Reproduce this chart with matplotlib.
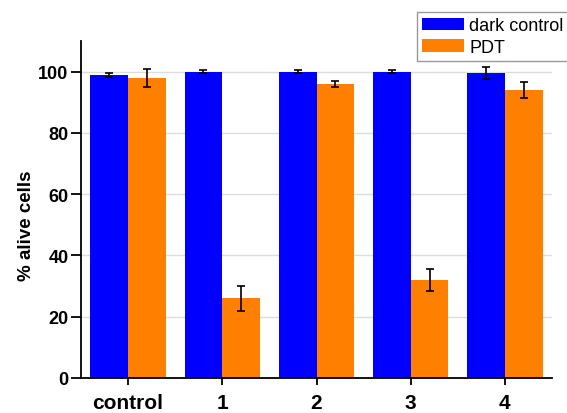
import matplotlib
matplotlib.use("Agg")
import matplotlib.pyplot as plt
import numpy as np

plt.rcParams['font.family'] = ['Liberation Sans', 'DejaVu Sans']

categories = ["control", "1", "2", "3", "4"]
dark_control = [99, 100, 100, 100, 99.5]
dark_err = [0.6, 0.5, 0.5, 0.5, 2.0]
pdt = [98, 26, 96, 32, 94]
pdt_err = [3.0, 4.0, 1.0, 3.5, 2.5]

fig = plt.figure(figsize=(5.67, 4.14), dpi=100)
ax = fig.add_axes([81/567, 1-379/414, (552-81)/567, (379-42)/414])

x = np.arange(len(categories))
w = 0.4
ax.bar(x - w/2, dark_control, w, color='#0000ff', yerr=dark_err, capsize=3,
       error_kw=dict(elinewidth=1.2, capthick=1.2, ecolor='black'), label='dark control', zorder=2)
ax.bar(x + w/2, pdt, w, color='#ff8000', yerr=pdt_err, capsize=3,
       error_kw=dict(elinewidth=1.2, capthick=1.2, ecolor='black'), label='PDT', zorder=2)

ax.set_xlim(-0.5, 4.5)
ax.set_ylim(0, 110)
ax.set_yticks([0, 20, 40, 60, 80, 100])
ax.set_xticks(x)
ax.set_xticklabels(categories, fontsize=15, fontweight='bold')
for lbl in ax.get_yticklabels():
    lbl.set_fontweight('bold')
    lbl.set_fontsize(13)
ax.yaxis.grid(True, color='#dddddd', linewidth=1, zorder=0)
ax.set_axisbelow(True)
ax.spines['top'].set_visible(False)
ax.spines['right'].set_visible(False)
ax.spines['left'].set_linewidth(1.3)
ax.spines['bottom'].set_linewidth(1.3)
ax.tick_params(axis='y', direction='out', length=7, width=1.3, pad=2)
ax.tick_params(axis='x', direction='out', length=5, width=1.3, pad=5.5)
ax.set_ylabel('% alive cells', fontsize=13.5, fontweight='bold')
ax.yaxis.set_label_coords(-0.098, 0.454)

leg = fig.legend(loc='upper left', bbox_to_anchor=(417/567, 1-13/414), fontsize=13,
                 frameon=True, fancybox=False, edgecolor='#808080', borderpad=0.3,
                 handlelength=2.3, handleheight=0.7, labelspacing=0.25, handletextpad=0.3,
                 borderaxespad=0)
leg.get_frame().set_linewidth(1.0)

fig.savefig('out.png', dpi=100)
